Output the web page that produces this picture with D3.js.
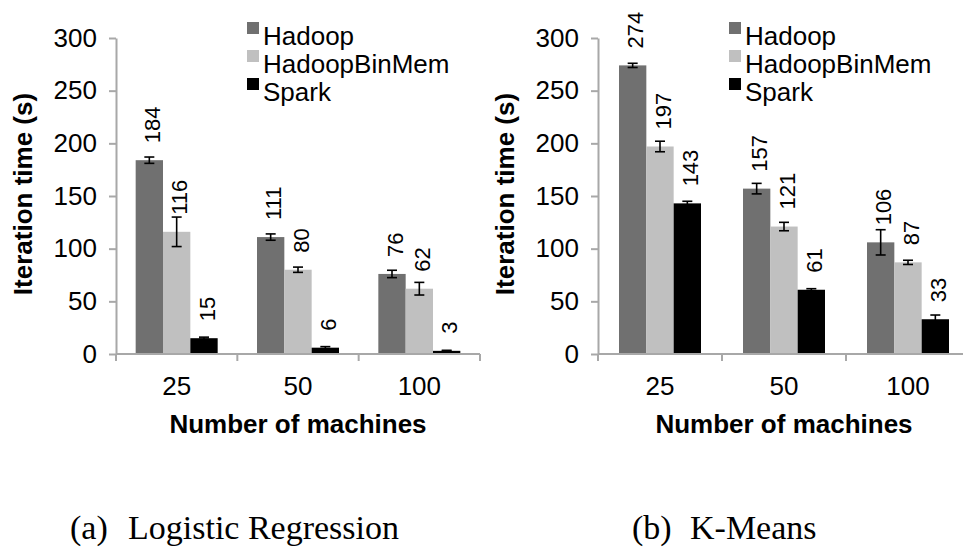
<!DOCTYPE html>
<html>
<head>
<meta charset="utf-8">
<script src="https://cdn.jsdelivr.net/npm/d3@7"></script>
<style>
  html, body { margin: 0; padding: 0; background: #fff; }
  svg { display: block; }
  text { font-family: "Liberation Sans", Arial, sans-serif; fill: #000; }
  text.caption { font-family: "Liberation Serif", "Times New Roman", serif; }
</style>
</head>
<body>
<div id="chart"></div>
<script>
// machines on the x axis
const machines = ["25", "50", "100"];
const series = ["Hadoop", "HadoopBinMem", "Spark"];
const yTicks = [0, 50, 100, 150, 200, 250, 300];

// (a) Logistic Regression, iteration time in seconds
const lrHadoop = [184, 111, 76];
const lrHadoopBinMem = [116, 80, 62];
const lrSpark = [15, 6, 3];
const lrHadoopErr = [3, 3, 3.5];
const lrHadoopBinMemErr = [14, 2.5, 6];
const lrSparkErr = [1, 1, 0.5];

// (b) K-Means
const kmHadoop = [274, 157, 106];
const kmHadoopBinMem = [197, 121, 87];
const kmSpark = [143, 61, 33];
const kmHadoopErr = [2, 5, 12];
const kmHadoopBinMemErr = [5, 4, 2];
const kmSparkErr = [2, 1, 4];

const captions = [["(a)", "Logistic Regression"], ["(b)", "K-Means"]];

const color = d3.scaleOrdinal()
    .domain(series)
    .range(["#707070", "#c0c0c0", "#000000"]);
const axisColor = "#a8a8a8";

const svg = d3.select("#chart")
    .append("svg")
    .attr("width", 963)
    .attr("height", 549);

function build(vals, errs) {
    return machines.map(function (m, i) {
        return {
            group: m,
            bars: series.map(function (s, j) {
                return { key: s, value: vals[j][i], err: errs[j][i] };
            })
        };
    });
}

function drawPanel(opts) {
    const data = build(opts.vals, opts.errs);
    const g = svg.append("g");

    const x = d3.scaleBand()
        .domain(machines)
        .range([opts.left, opts.left + opts.width])
        .padding(0);
    const y = d3.scaleLinear()
        .domain([0, 300])
        .range([354, 38]);

    // inner scale: three bars, ~82px wide group in the middle of each band
    const groupW = 82;
    const pad = (x.bandwidth() - groupW) / 2;
    const xSub = d3.scaleBand()
        .domain(series)
        .range([pad, x.bandwidth() - pad])
        .padding(0);

    // y axis
    const yAxis = g.append("g")
        .attr("transform", `translate(${opts.left},0)`)
        .call(d3.axisLeft(y).tickValues(yTicks).tickSize(7).tickSizeOuter(0).tickPadding(12));
    yAxis.selectAll("path, line").attr("stroke", axisColor).attr("stroke-width", 2);
    yAxis.selectAll("text").attr("font-size", "26px");

    // bars
    const groups = g.append("g")
        .selectAll("g")
        .data(data)
        .join("g")
        .attr("transform", d => `translate(${x(d.group)},0)`);

    groups.selectAll("rect")
        .data(d => d.bars)
        .join("rect")
        .attr("x", d => xSub(d.key))
        .attr("y", d => y(d.value))
        .attr("width", xSub.bandwidth())
        .attr("height", d => y(0) - y(d.value))
        .attr("fill", d => color(d.key));

    // error bars
    const eb = groups.selectAll("g.err")
        .data(d => d.bars)
        .join("g")
        .attr("class", "err")
        .attr("stroke", "#000")
        .attr("stroke-width", 1.6);
    const cx = d => xSub(d.key) + xSub.bandwidth() / 2;
    eb.append("line")
        .attr("x1", cx).attr("x2", cx)
        .attr("y1", d => y(d.value + d.err)).attr("y2", d => y(Math.max(0, d.value - d.err)));
    eb.append("line")
        .attr("x1", d => cx(d) - 5).attr("x2", d => cx(d) + 5)
        .attr("y1", d => y(d.value + d.err)).attr("y2", d => y(d.value + d.err));
    eb.append("line")
        .attr("x1", d => cx(d) - 5).attr("x2", d => cx(d) + 5)
        .attr("y1", d => y(Math.max(0, d.value - d.err))).attr("y2", d => y(Math.max(0, d.value - d.err)));

    // value labels, rotated
    groups.selectAll("text.val")
        .data(d => d.bars)
        .join("text")
        .attr("class", "val")
        .attr("transform", d => `translate(${cx(d) + 3},${y(d.value) - 17}) rotate(-90)`)
        .attr("dy", "0.35em")
        .attr("font-size", "22px")
        .text(d => d.value);

    // x axis: line + boundary ticks, labels in the middle of the bands
    const xAxis = g.append("g")
        .attr("transform", "translate(0,354)")
        .call(d3.axisBottom(x).tickSize(0).tickPadding(23));
    xAxis.select(".domain").remove();
    xAxis.selectAll("text").attr("font-size", "26px");
    g.append("line")
        .attr("x1", x.range()[0]).attr("x2", x.range()[1])
        .attr("y1", y(0)).attr("y2", y(0))
        .attr("stroke", axisColor).attr("stroke-width", 2);
    g.append("g")
        .selectAll("line")
        .data(d3.range(machines.length + 1))
        .join("line")
        .attr("x1", i => x.range()[0] + i * x.step())
        .attr("x2", i => x.range()[0] + i * x.step())
        .attr("y1", y(0)).attr("y2", y(0) + 7)
        .attr("stroke", axisColor).attr("stroke-width", 2);

    // axis titles
    g.append("text")
        .attr("x", opts.left + opts.width / 2)
        .attr("y", 433)
        .attr("text-anchor", "middle")
        .attr("font-weight", "bold")
        .attr("font-size", "26px")
        .text("Number of machines");
    g.append("text")
        .attr("transform", `translate(${opts.left - 93},${(y(0) + y(300)) / 2 - 2}) rotate(-90)`)
        .attr("text-anchor", "middle")
        .attr("dy", "0.35em")
        .attr("font-weight", "bold")
        .attr("font-size", "26px")
        .text("Iteration time (s)");

    // legend
    const leg = g.append("g")
        .attr("transform", `translate(${opts.left + 131},0)`);
    series.forEach(function (s, i) {
        leg.append("rect")
            .attr("x", 0).attr("y", 22 + i * 28)
            .attr("width", 12).attr("height", 12)
            .attr("fill", color(s));
        leg.append("text")
            .attr("x", 16).attr("y", 45 + i * 28)
            .attr("font-size", "26px")
            .text(s);
    });

    // caption
    const cap = g.append("text")
        .attr("class", "caption")
        .attr("y", 539)
        .attr("font-size", "34px");
    cap.append("tspan").attr("x", opts.capX).text(opts.caption[0]);
    cap.append("tspan").attr("x", opts.capX + 58).text(opts.caption[1]);
}

drawPanel({
    left: 116, width: 364,
    vals: [lrHadoop, lrHadoopBinMem, lrSpark],
    errs: [lrHadoopErr, lrHadoopBinMemErr, lrSparkErr],
    caption: captions[0], capX: 70
});
drawPanel({
    left: 598, width: 372,
    vals: [kmHadoop, kmHadoopBinMem, kmSpark],
    errs: [kmHadoopErr, kmHadoopBinMemErr, kmSparkErr],
    caption: captions[1], capX: 632
});
</script>
</body>
</html>
